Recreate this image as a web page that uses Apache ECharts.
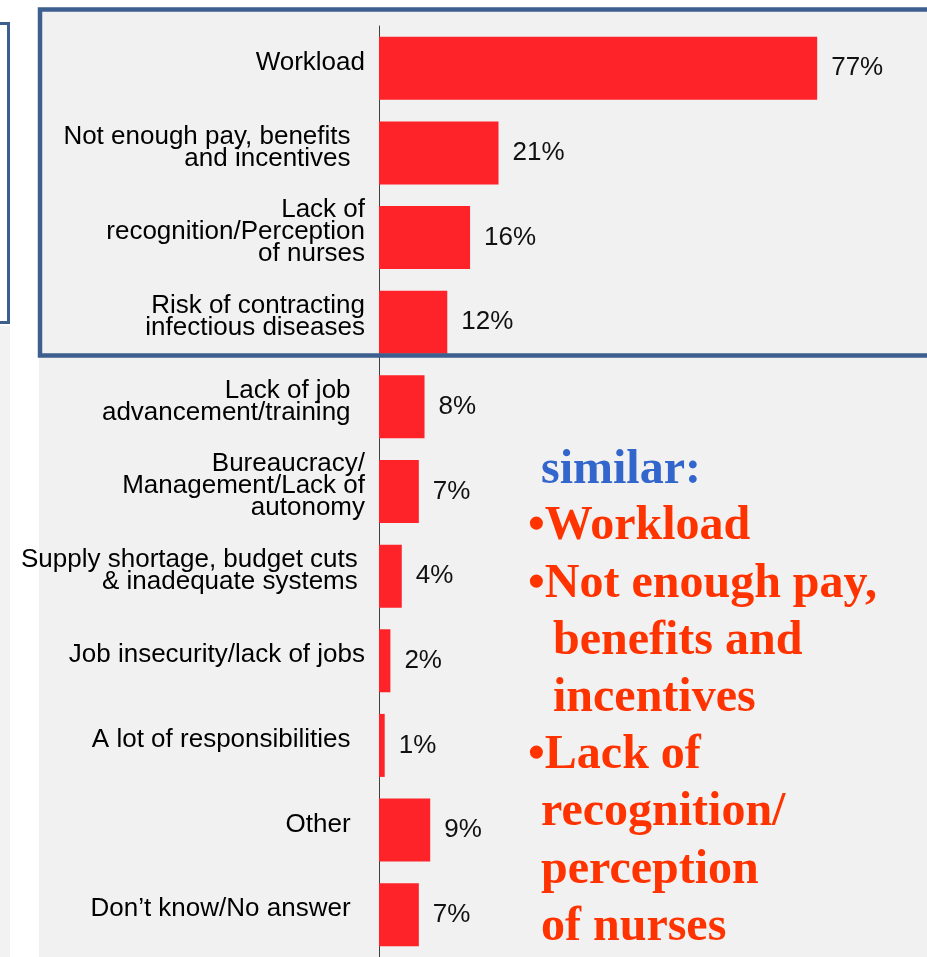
<!DOCTYPE html>
<html>
<head>
<meta charset="utf-8">
<script src="https://cdn.jsdelivr.net/npm/echarts@6/dist/echarts.min.js"></script>
<style>
html,body{margin:0;padding:0;background:#fff;}
#chart{width:927px;height:957px;}
</style>
</head>
<body>
<div id="chart"></div>
<script>
const categories = [
  'Workload',
  'Not enough pay, benefits  \nand incentives  ',
  'Lack of\nrecognition/Perception\nof nurses',
  'Risk of contracting\ninfectious diseases',
  'Lack of job  \nadvancement/training  ',
  'Bureaucracy/\nManagement/Lack of\nautonomy',
  'Supply shortage, budget cuts \n& inadequate systems ',
  'Job insecurity/lack of jobs',
  'A lot of responsibilities  ',
  'Other  ',
  'Don\u2019t know/No answer  '
];
const values = [77, 21, 16, 12, 8, 7, 4, 2, 1, 9, 7];

const noteTitle = 'similar:';
const noteLines = [
  '\u2022Workload',
  '\u2022Not enough pay,',
  'benefits and',
  'incentives',
  '\u2022Lack of',
  'recognition/',
  'perception',
  'of nurses'
];

const chart = echarts.init(document.getElementById('chart'));

const noteX = [528, 528, 553, 553, 528, 541, 541, 541];
const noteBase = [538, 596, 653, 710, 767, 824, 882, 939];
const ASC = 35;
const textEls = [{
  type: 'text', z: 50,
  style: {
    x: 541, y: 482 - ASC, text: noteTitle, fill: '#3366cc',
    font: 'bold 48px "Liberation Serif"'
  }
}];
noteLines.forEach((t, i) => {
  textEls.push({
    type: 'text', z: 50,
    style: {
      x: noteX[i], y: noteBase[i] - ASC, text: t, fill: '#ff3300',
      font: 'bold 48px "Liberation Serif"'
    }
  });
});

chart.setOption({
  backgroundColor: '#ffffff',
  animation: false,
  grid: { left: 379, top: 26, width: 548, height: 935, containLabel: false },
  xAxis: {
    type: 'value', min: 0, max: 96.3, show: false,
    splitLine: { show: false }
  },
  yAxis: {
    type: 'category', inverse: true, data: categories,
    axisTick: { show: false },
    axisLine: { show: true, lineStyle: { color: '#404040', width: 1 } },
    axisLabel: {
      interval: 0, margin: 14, color: '#000', fontSize: 26, lineHeight: 22,
      fontFamily: '"Liberation Sans", Arial', align: 'right',
      padding: [0, 0, 11, 0],
      rich: { t: { fontSize: 26, lineHeight: 22, fontFamily: '"Liberation Sans", Arial', color: '#000' } }
    }
  },
  series: [{
    type: 'bar', data: values, barWidth: 63,
    itemStyle: { color: '#fe2328' },
    label: {
      show: true, position: 'right', distance: 14, formatter: '{c}%',
      color: '#111', fontSize: 26, fontFamily: '"Liberation Sans", Arial'
    },
    z: 2
  }],
  graphic: [
    { type: 'rect', z: -10, shape: { x: 39, y: 8, width: 900, height: 960 }, style: { fill: '#f1f1f1' } },
    { type: 'rect', z: -10, shape: { x: 0, y: 326, width: 10, height: 640 }, style: { fill: '#f2f2f2' } },
    { type: 'rect', z: 100, shape: { x: -10, y: 23.5, width: 18.5, height: 299 }, style: { fill: 'none', stroke: '#3c5f8f', lineWidth: 3 } },
    { type: 'rect', z: 100, shape: { x: 40, y: 9.5, width: 900, height: 346 }, style: { fill: 'none', stroke: '#3c5f8f', lineWidth: 4.5 } }
  ].concat(textEls)
});
</script>
</body>
</html>
